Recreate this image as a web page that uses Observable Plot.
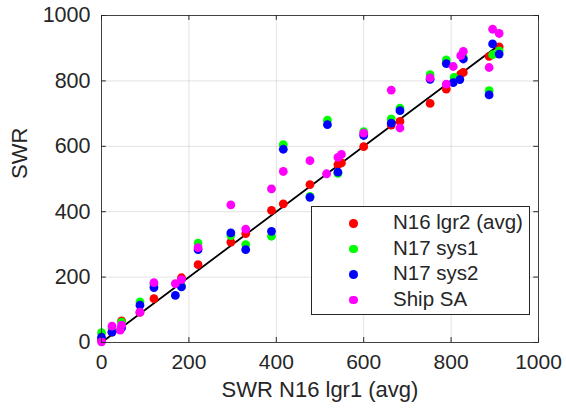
<!DOCTYPE html>
<html>
<head>
<meta charset="utf-8">
<script src="https://cdn.jsdelivr.net/npm/d3@7"></script>
<script src="https://cdn.jsdelivr.net/npm/@observablehq/plot@0.6"></script>
<style>
  body { margin: 0; background: #fff; }
  #wrap { position: relative; width: 566px; height: 414px; font-family: "Liberation Sans", Arial, sans-serif; color: #262626; }
  #legend { position: absolute; left: 311px; top: 206px; width: 219px; height: 109px; border: 1px solid #262626; background: #fff; box-sizing: border-box; }
  .row { position: absolute; left: 0; height: 24px; line-height: 24px; font-size: 20.5px; white-space: nowrap; }
  .mk { position: absolute; left: 37px; top: 8px; width: 8.5px; height: 8.5px; border-radius: 50%; }
  .lb { position: absolute; left: 81px; top: -1px; }
</style>
</head>
<body>
<div id="wrap"></div>
<script>
// ---- data ----
const seriesNames = ["N16 lgr2 (avg)", "N17 sys1", "N17 sys2", "Ship SA"];
const seriesColors = ["#ff0000", "#00ff00", "#0000ff", "#ff00ff"];

const redX = [0, 24, 46, 88, 120, 183, 221, 296, 330, 389, 416, 477, 541, 549, 600, 663, 683, 752, 789, 822, 828, 887, 910];
const redY = [8, 32, 66, 92, 134, 198, 238, 307, 333, 404, 424, 483, 544, 549, 599, 665, 676, 731, 775, 821, 826, 875, 904];

const greenX = [0, 24, 46, 88, 120, 183, 221, 296, 330, 389, 416, 477, 517, 541, 600, 663, 683, 752, 789, 807, 828, 887, 895, 910];
const greenY = [30, 42, 62, 124, 178, 173, 304, 327, 299, 325, 605, 447, 680, 517, 645, 684, 717, 819, 864, 811, 872, 770, 880, 892];

const blueX = [0, 24, 46, 88, 120, 169, 183, 221, 296, 330, 389, 416, 477, 517, 541, 600, 663, 683, 752, 789, 805, 820, 828, 887, 895, 910];
const blueY = [16, 32, 45, 114, 168, 144, 170, 284, 335, 284, 340, 591, 444, 666, 521, 633, 671, 709, 805, 853, 795, 804, 867, 757, 913, 882];

const magX = [0, 24, 43, 46, 88, 120, 169, 183, 221, 296, 330, 389, 416, 477, 515, 541, 549, 600, 663, 683, 752, 789, 805, 822, 828, 887, 895, 910];
const magY = [2, 50, 38, 53, 93, 183, 180, 192, 290, 421, 347, 470, 523, 556, 516, 566, 575, 640, 772, 656, 809, 790, 844, 877, 890, 841, 958, 945];

const fitX = [0, 910];           // 1:1 reference line endpoints
const xTicks = [0, 200, 400, 600, 800, 1000];
const yTicks = [0, 200, 400, 600, 800, 1000];
const xLabel = "SWR N16 lgr1 (avg)";
const yLabel = "SWR";

// ---- build table ----
const allX = [redX, greenX, blueX, magX];
const allY = [redY, greenY, blueY, magY];
const points = [];
allX.forEach((xs, s) => xs.forEach((x, i) => points.push({x, y: allY[s][i], s: seriesNames[s]})));
const fitLine = fitX.map(v => ({x: v, y: v}));

const axisColor = "#262626";
const fmt = d => String(d);
const chart = Plot.plot({
  width: 566,
  height: 414,
  marginLeft: 101,
  marginRight: 28,
  marginTop: 15,
  marginBottom: 72,
  style: {fontFamily: "'Liberation Sans', Arial, sans-serif", color: axisColor, background: "#fff"},
  x: {domain: [0, 1000], ticks: xTicks},
  y: {domain: [0, 1000], ticks: yTicks},
  color: {domain: seriesNames, range: seriesColors},
  marks: [
    Plot.gridX(xTicks, {stroke: axisColor, strokeOpacity: 0.13}),
    Plot.gridY(yTicks, {stroke: axisColor, strokeOpacity: 0.13}),
    Plot.line(fitLine, {x: "x", y: "y", stroke: "black", strokeWidth: 1.8}),
    Plot.dot(points, {x: "x", y: "y", fill: "s", r: 4.4, stroke: null}),
    Plot.frame({stroke: axisColor, strokeOpacity: 0.85}),
    Plot.ruleX(xTicks, {x: d => d, y1: 0, y2: 15, stroke: axisColor}),
    Plot.ruleX(xTicks, {x: d => d, y1: 985, y2: 1000, stroke: axisColor}),
    Plot.ruleY(yTicks, {y: d => d, x1: 0, x2: 11, stroke: axisColor}),
    Plot.ruleY(yTicks, {y: d => d, x1: 989, x2: 1000, stroke: axisColor}),
    Plot.axisX(xTicks, {tickSize: 0, tickPadding: 12, fontSize: 21, label: null, tickFormat: fmt, fill: axisColor}),
    Plot.axisY(yTicks, {tickSize: 0, tickPadding: 11, fontSize: 21.5, label: null, tickFormat: fmt, fill: axisColor}),
    Plot.text([xLabel], {text: d => d, frameAnchor: "bottom", dy: 54, fontSize: 22, fill: axisColor}),
    Plot.text([yLabel], {text: d => d, frameAnchor: "left", rotate: -90, dx: -82, fontSize: 22, fill: axisColor})
  ]
});

const wrap = document.getElementById("wrap");
wrap.appendChild(chart);

// legend
const legend = document.createElement("div");
legend.id = "legend";
const rowTops = [4, 29.5, 55, 80.5];
seriesNames.forEach((name, i) => {
  const row = document.createElement("div");
  row.className = "row";
  row.style.top = rowTops[i] + "px";
  const mk = document.createElement("span");
  mk.className = "mk";
  mk.style.background = seriesColors[i];
  const lb = document.createElement("span");
  lb.className = "lb";
  lb.textContent = name;
  row.appendChild(mk);
  row.appendChild(lb);
  legend.appendChild(row);
});
wrap.appendChild(legend);
</script>
</body>
</html>
